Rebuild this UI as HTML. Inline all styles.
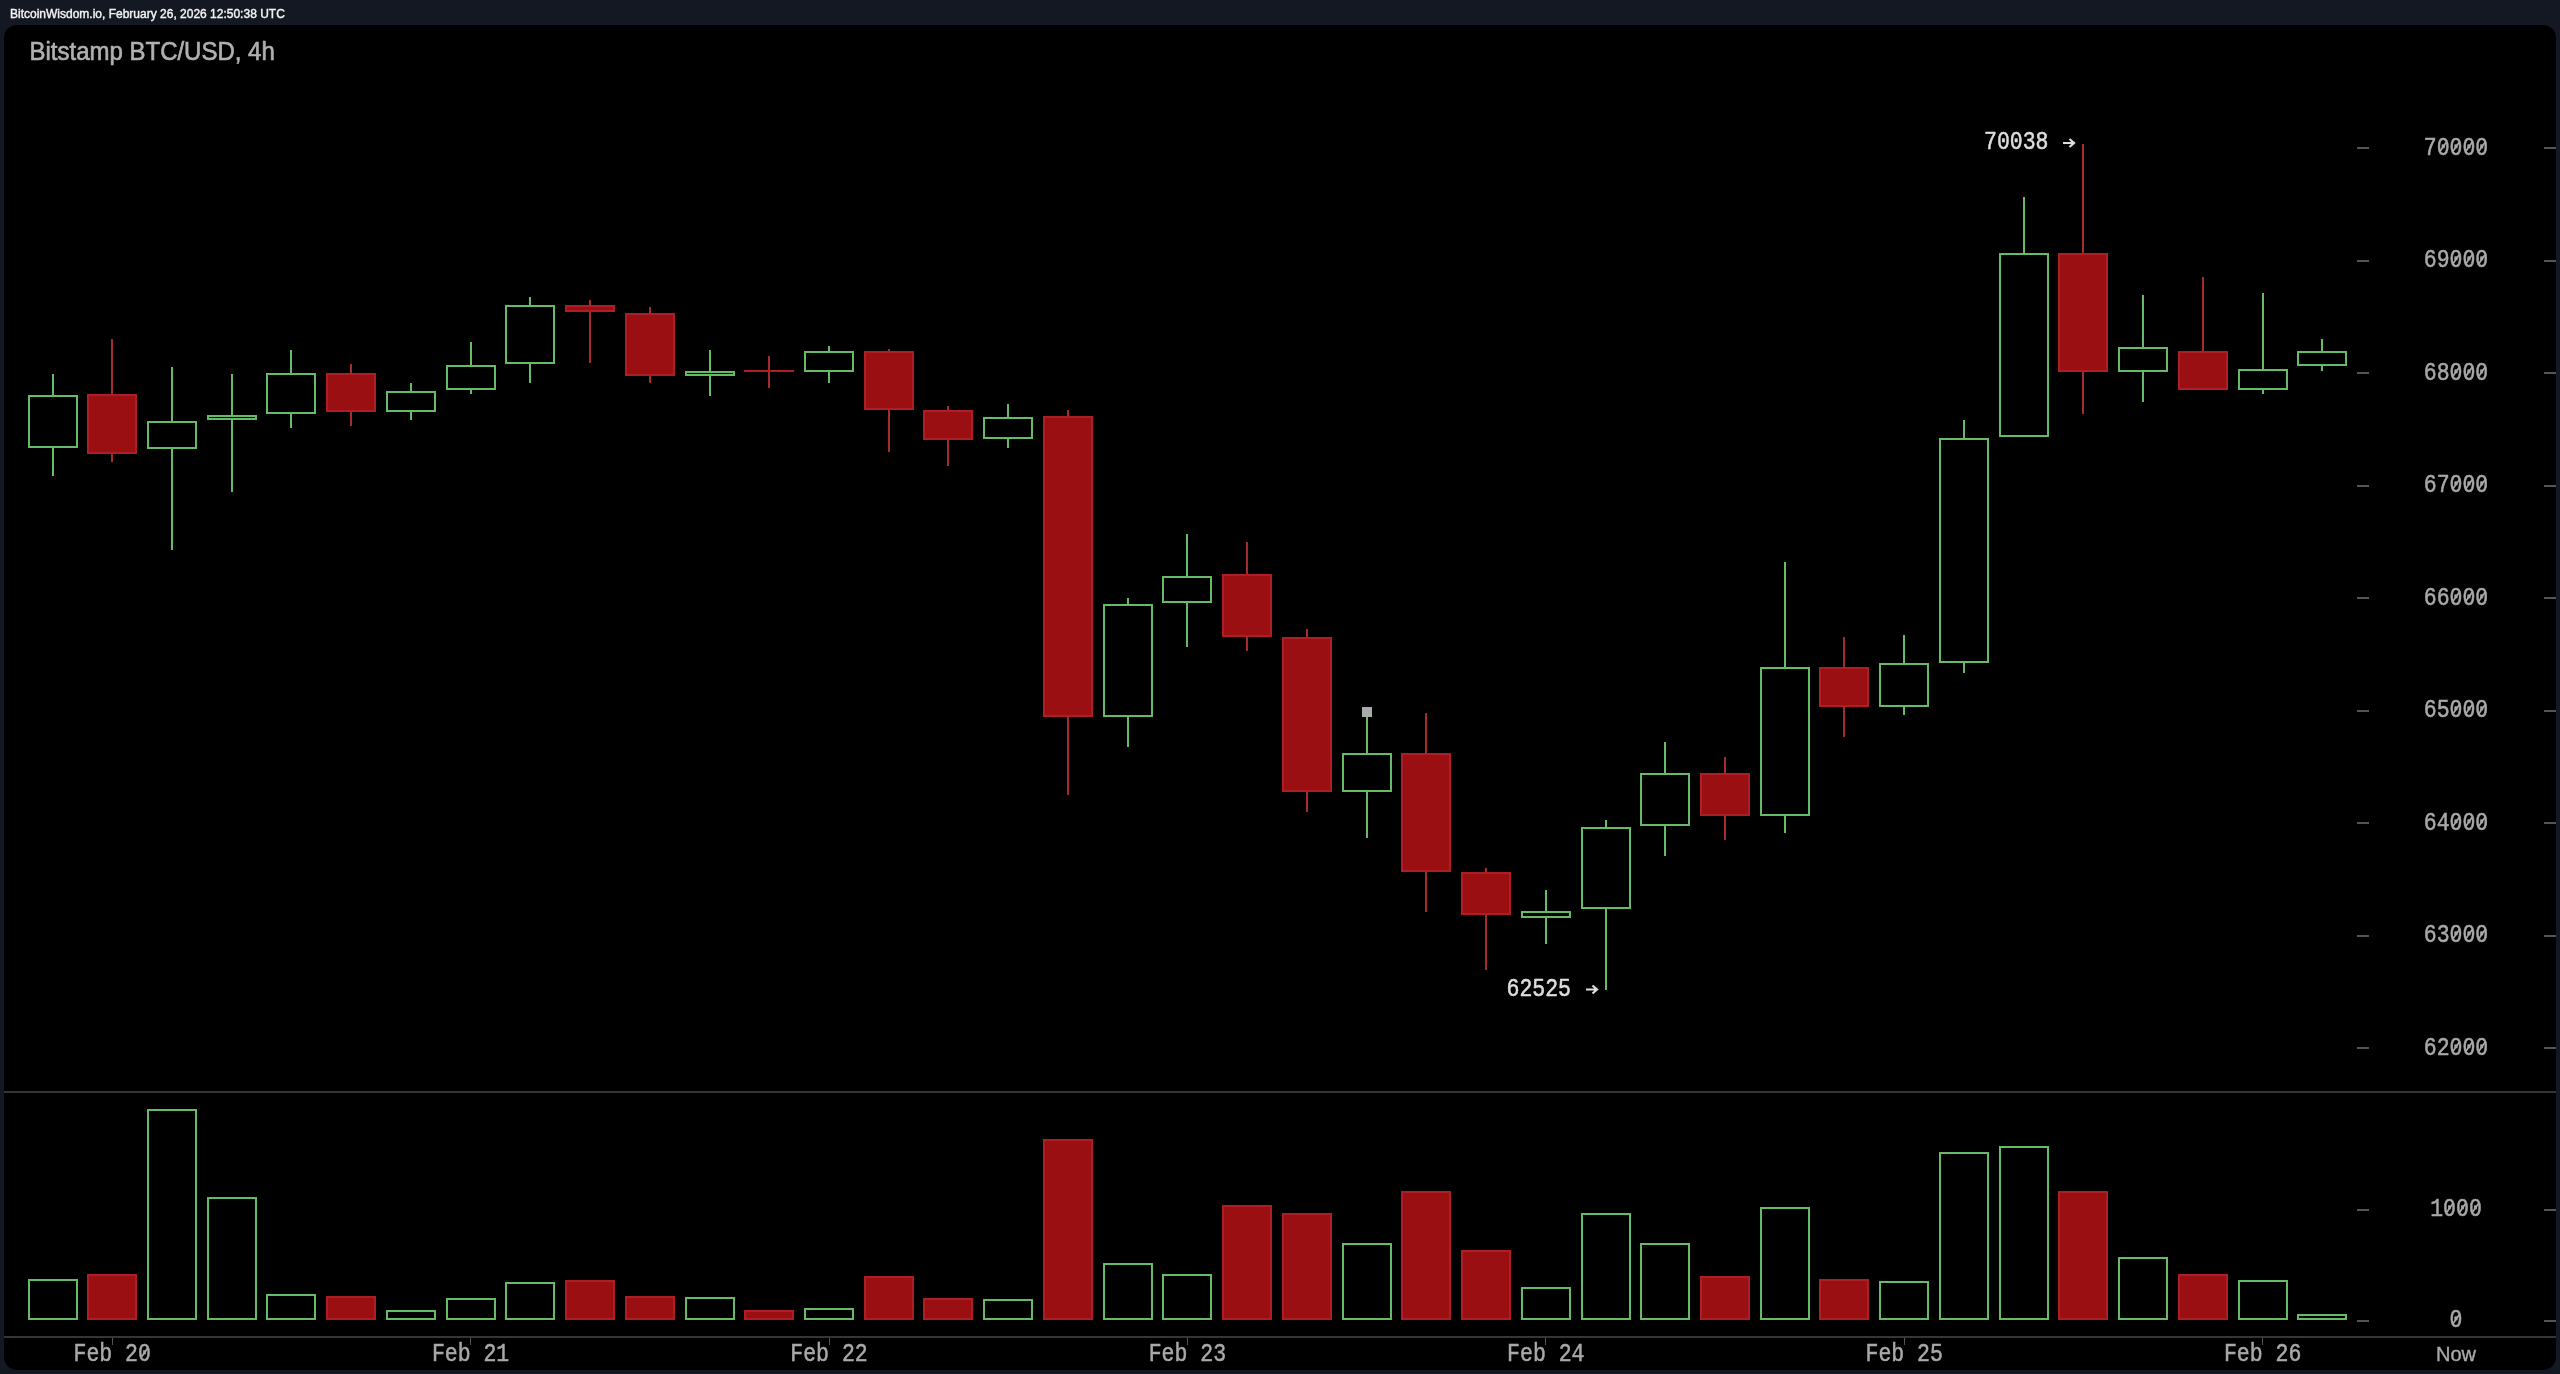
<!DOCTYPE html>
<html><head><meta charset="utf-8"><style>
html,body{margin:0;padding:0;width:2560px;height:1374px;overflow:hidden;background:#141822;}
svg{position:absolute;left:0;top:0;display:block;will-change:transform}
</style></head><body>
<svg width="2560" height="1374" viewBox="0 0 2560 1374" shape-rendering="crispEdges">
<rect x="0" y="0" width="2560" height="1374" fill="#141822"/>
<text x="10" y="17.8" font-family="Liberation Sans, sans-serif" font-size="12" fill="#f4f4f4" stroke="#f4f4f4" stroke-width="0.4">BitcoinWisdom.io, February 26, 2026 12:50:38 UTC</text>
<rect x="4" y="25" width="2552" height="1345" rx="13" ry="13" fill="#000" shape-rendering="geometricPrecision"/>
<text x="29.5" y="0" transform="translate(0,59.85) scale(1,1.06)" font-family="Liberation Sans, sans-serif" font-size="24" fill="#b0b0b0" stroke="#b0b0b0" stroke-width="0.6">Bitstamp BTC/USD, 4h</text>
<rect x="52" y="374" width="2" height="21" fill="#66bb66"/>
<rect x="52" y="448" width="2" height="28" fill="#66bb66"/>
<rect x="29" y="396" width="48" height="51" fill="none" stroke="#66bb66" stroke-width="2"/>
<rect x="111" y="339" width="2" height="123" fill="#a42c2a"/>
<rect x="87" y="394" width="50" height="60" fill="#ae1e22"/>
<rect x="89" y="396" width="46" height="56" fill="#9a0f11"/>
<rect x="171" y="367" width="2" height="54" fill="#66bb66"/>
<rect x="171" y="449" width="2" height="101" fill="#66bb66"/>
<rect x="148" y="422" width="48" height="26" fill="none" stroke="#66bb66" stroke-width="2"/>
<rect x="231" y="374" width="2" height="41" fill="#66bb66"/>
<rect x="231" y="420" width="2" height="72" fill="#66bb66"/>
<rect x="208" y="416" width="48" height="3" fill="none" stroke="#66bb66" stroke-width="2"/>
<rect x="290" y="350" width="2" height="23" fill="#66bb66"/>
<rect x="290" y="414" width="2" height="14" fill="#66bb66"/>
<rect x="267" y="374" width="48" height="39" fill="none" stroke="#66bb66" stroke-width="2"/>
<rect x="350" y="364" width="2" height="62" fill="#a42c2a"/>
<rect x="326" y="373" width="50" height="39" fill="#ae1e22"/>
<rect x="328" y="375" width="46" height="35" fill="#9a0f11"/>
<rect x="410" y="383" width="2" height="8" fill="#66bb66"/>
<rect x="410" y="412" width="2" height="8" fill="#66bb66"/>
<rect x="387" y="392" width="48" height="19" fill="none" stroke="#66bb66" stroke-width="2"/>
<rect x="470" y="342" width="2" height="23" fill="#66bb66"/>
<rect x="470" y="390" width="2" height="4" fill="#66bb66"/>
<rect x="447" y="366" width="48" height="23" fill="none" stroke="#66bb66" stroke-width="2"/>
<rect x="529" y="297" width="2" height="8" fill="#66bb66"/>
<rect x="529" y="364" width="2" height="19" fill="#66bb66"/>
<rect x="506" y="306" width="48" height="57" fill="none" stroke="#66bb66" stroke-width="2"/>
<rect x="589" y="300" width="2" height="63" fill="#a42c2a"/>
<rect x="565" y="305" width="50" height="7" fill="#ae1e22"/>
<rect x="567" y="307" width="46" height="3" fill="#9a0f11"/>
<rect x="649" y="307" width="2" height="76" fill="#a42c2a"/>
<rect x="625" y="313" width="50" height="63" fill="#ae1e22"/>
<rect x="627" y="315" width="46" height="59" fill="#9a0f11"/>
<rect x="709" y="350" width="2" height="21" fill="#66bb66"/>
<rect x="709" y="376" width="2" height="20" fill="#66bb66"/>
<rect x="686" y="372" width="48" height="3" fill="none" stroke="#66bb66" stroke-width="2"/>
<rect x="768" y="356" width="2" height="32" fill="#a42c2a"/>
<rect x="744" y="370" width="50" height="2" fill="#ae1e22"/>
<rect x="828" y="346" width="2" height="5" fill="#66bb66"/>
<rect x="828" y="372" width="2" height="11" fill="#66bb66"/>
<rect x="805" y="352" width="48" height="19" fill="none" stroke="#66bb66" stroke-width="2"/>
<rect x="888" y="349" width="2" height="103" fill="#a42c2a"/>
<rect x="864" y="351" width="50" height="59" fill="#ae1e22"/>
<rect x="866" y="353" width="46" height="55" fill="#9a0f11"/>
<rect x="947" y="406" width="2" height="60" fill="#a42c2a"/>
<rect x="923" y="410" width="50" height="30" fill="#ae1e22"/>
<rect x="925" y="412" width="46" height="26" fill="#9a0f11"/>
<rect x="1007" y="404" width="2" height="13" fill="#66bb66"/>
<rect x="1007" y="439" width="2" height="9" fill="#66bb66"/>
<rect x="984" y="418" width="48" height="20" fill="none" stroke="#66bb66" stroke-width="2"/>
<rect x="1067" y="410" width="2" height="385" fill="#a42c2a"/>
<rect x="1043" y="416" width="50" height="301" fill="#ae1e22"/>
<rect x="1045" y="418" width="46" height="297" fill="#9a0f11"/>
<rect x="1127" y="598" width="2" height="6" fill="#66bb66"/>
<rect x="1127" y="717" width="2" height="30" fill="#66bb66"/>
<rect x="1104" y="605" width="48" height="111" fill="none" stroke="#66bb66" stroke-width="2"/>
<rect x="1186" y="534" width="2" height="42" fill="#66bb66"/>
<rect x="1186" y="603" width="2" height="44" fill="#66bb66"/>
<rect x="1163" y="577" width="48" height="25" fill="none" stroke="#66bb66" stroke-width="2"/>
<rect x="1246" y="542" width="2" height="109" fill="#a42c2a"/>
<rect x="1222" y="574" width="50" height="63" fill="#ae1e22"/>
<rect x="1224" y="576" width="46" height="59" fill="#9a0f11"/>
<rect x="1306" y="629" width="2" height="183" fill="#a42c2a"/>
<rect x="1282" y="637" width="50" height="155" fill="#ae1e22"/>
<rect x="1284" y="639" width="46" height="151" fill="#9a0f11"/>
<rect x="1366" y="712" width="2" height="41" fill="#66bb66"/>
<rect x="1366" y="792" width="2" height="46" fill="#66bb66"/>
<rect x="1343" y="754" width="48" height="37" fill="none" stroke="#66bb66" stroke-width="2"/>
<rect x="1425" y="713" width="2" height="199" fill="#a42c2a"/>
<rect x="1401" y="753" width="50" height="119" fill="#ae1e22"/>
<rect x="1403" y="755" width="46" height="115" fill="#9a0f11"/>
<rect x="1485" y="868" width="2" height="102" fill="#a42c2a"/>
<rect x="1461" y="872" width="50" height="43" fill="#ae1e22"/>
<rect x="1463" y="874" width="46" height="39" fill="#9a0f11"/>
<rect x="1545" y="890" width="2" height="21" fill="#66bb66"/>
<rect x="1545" y="918" width="2" height="26" fill="#66bb66"/>
<rect x="1522" y="912" width="48" height="5" fill="none" stroke="#66bb66" stroke-width="2"/>
<rect x="1605" y="820" width="2" height="7" fill="#66bb66"/>
<rect x="1605" y="909" width="2" height="81" fill="#66bb66"/>
<rect x="1582" y="828" width="48" height="80" fill="none" stroke="#66bb66" stroke-width="2"/>
<rect x="1664" y="742" width="2" height="31" fill="#66bb66"/>
<rect x="1664" y="826" width="2" height="30" fill="#66bb66"/>
<rect x="1641" y="774" width="48" height="51" fill="none" stroke="#66bb66" stroke-width="2"/>
<rect x="1724" y="757" width="2" height="83" fill="#a42c2a"/>
<rect x="1700" y="773" width="50" height="43" fill="#ae1e22"/>
<rect x="1702" y="775" width="46" height="39" fill="#9a0f11"/>
<rect x="1784" y="562" width="2" height="105" fill="#66bb66"/>
<rect x="1784" y="816" width="2" height="17" fill="#66bb66"/>
<rect x="1761" y="668" width="48" height="147" fill="none" stroke="#66bb66" stroke-width="2"/>
<rect x="1843" y="637" width="2" height="100" fill="#a42c2a"/>
<rect x="1819" y="667" width="50" height="40" fill="#ae1e22"/>
<rect x="1821" y="669" width="46" height="36" fill="#9a0f11"/>
<rect x="1903" y="635" width="2" height="28" fill="#66bb66"/>
<rect x="1903" y="707" width="2" height="8" fill="#66bb66"/>
<rect x="1880" y="664" width="48" height="42" fill="none" stroke="#66bb66" stroke-width="2"/>
<rect x="1963" y="420" width="2" height="18" fill="#66bb66"/>
<rect x="1963" y="663" width="2" height="10" fill="#66bb66"/>
<rect x="1940" y="439" width="48" height="223" fill="none" stroke="#66bb66" stroke-width="2"/>
<rect x="2023" y="197" width="2" height="56" fill="#66bb66"/>
<rect x="2000" y="254" width="48" height="182" fill="none" stroke="#66bb66" stroke-width="2"/>
<rect x="2082" y="144" width="2" height="270" fill="#a42c2a"/>
<rect x="2058" y="253" width="50" height="119" fill="#ae1e22"/>
<rect x="2060" y="255" width="46" height="115" fill="#9a0f11"/>
<rect x="2142" y="295" width="2" height="52" fill="#66bb66"/>
<rect x="2142" y="372" width="2" height="30" fill="#66bb66"/>
<rect x="2119" y="348" width="48" height="23" fill="none" stroke="#66bb66" stroke-width="2"/>
<rect x="2202" y="277" width="2" height="113" fill="#a42c2a"/>
<rect x="2178" y="351" width="50" height="39" fill="#ae1e22"/>
<rect x="2180" y="353" width="46" height="35" fill="#9a0f11"/>
<rect x="2262" y="293" width="2" height="76" fill="#66bb66"/>
<rect x="2262" y="390" width="2" height="4" fill="#66bb66"/>
<rect x="2239" y="370" width="48" height="19" fill="none" stroke="#66bb66" stroke-width="2"/>
<rect x="2321" y="339" width="2" height="12" fill="#66bb66"/>
<rect x="2321" y="366" width="2" height="5" fill="#66bb66"/>
<rect x="2298" y="352" width="48" height="13" fill="none" stroke="#66bb66" stroke-width="2"/>
<rect x="29" y="1280" width="48" height="39" fill="none" stroke="#66bb66" stroke-width="2"/>
<rect x="87" y="1274" width="50" height="46" fill="#ae1e22"/>
<rect x="89" y="1276" width="46" height="42" fill="#9a0f11"/>
<rect x="148" y="1110" width="48" height="209" fill="none" stroke="#66bb66" stroke-width="2"/>
<rect x="208" y="1198" width="48" height="121" fill="none" stroke="#66bb66" stroke-width="2"/>
<rect x="267" y="1295" width="48" height="24" fill="none" stroke="#66bb66" stroke-width="2"/>
<rect x="326" y="1296" width="50" height="24" fill="#ae1e22"/>
<rect x="328" y="1298" width="46" height="20" fill="#9a0f11"/>
<rect x="387" y="1311" width="48" height="8" fill="none" stroke="#66bb66" stroke-width="2"/>
<rect x="447" y="1299" width="48" height="20" fill="none" stroke="#66bb66" stroke-width="2"/>
<rect x="506" y="1283" width="48" height="36" fill="none" stroke="#66bb66" stroke-width="2"/>
<rect x="565" y="1280" width="50" height="40" fill="#ae1e22"/>
<rect x="567" y="1282" width="46" height="36" fill="#9a0f11"/>
<rect x="625" y="1296" width="50" height="24" fill="#ae1e22"/>
<rect x="627" y="1298" width="46" height="20" fill="#9a0f11"/>
<rect x="686" y="1298" width="48" height="21" fill="none" stroke="#66bb66" stroke-width="2"/>
<rect x="744" y="1310" width="50" height="10" fill="#ae1e22"/>
<rect x="746" y="1312" width="46" height="6" fill="#9a0f11"/>
<rect x="805" y="1309" width="48" height="10" fill="none" stroke="#66bb66" stroke-width="2"/>
<rect x="864" y="1276" width="50" height="44" fill="#ae1e22"/>
<rect x="866" y="1278" width="46" height="40" fill="#9a0f11"/>
<rect x="923" y="1298" width="50" height="22" fill="#ae1e22"/>
<rect x="925" y="1300" width="46" height="18" fill="#9a0f11"/>
<rect x="984" y="1300" width="48" height="19" fill="none" stroke="#66bb66" stroke-width="2"/>
<rect x="1043" y="1139" width="50" height="181" fill="#ae1e22"/>
<rect x="1045" y="1141" width="46" height="177" fill="#9a0f11"/>
<rect x="1104" y="1264" width="48" height="55" fill="none" stroke="#66bb66" stroke-width="2"/>
<rect x="1163" y="1275" width="48" height="44" fill="none" stroke="#66bb66" stroke-width="2"/>
<rect x="1222" y="1205" width="50" height="115" fill="#ae1e22"/>
<rect x="1224" y="1207" width="46" height="111" fill="#9a0f11"/>
<rect x="1282" y="1213" width="50" height="107" fill="#ae1e22"/>
<rect x="1284" y="1215" width="46" height="103" fill="#9a0f11"/>
<rect x="1343" y="1244" width="48" height="75" fill="none" stroke="#66bb66" stroke-width="2"/>
<rect x="1401" y="1191" width="50" height="129" fill="#ae1e22"/>
<rect x="1403" y="1193" width="46" height="125" fill="#9a0f11"/>
<rect x="1461" y="1250" width="50" height="70" fill="#ae1e22"/>
<rect x="1463" y="1252" width="46" height="66" fill="#9a0f11"/>
<rect x="1522" y="1288" width="48" height="31" fill="none" stroke="#66bb66" stroke-width="2"/>
<rect x="1582" y="1214" width="48" height="105" fill="none" stroke="#66bb66" stroke-width="2"/>
<rect x="1641" y="1244" width="48" height="75" fill="none" stroke="#66bb66" stroke-width="2"/>
<rect x="1700" y="1276" width="50" height="44" fill="#ae1e22"/>
<rect x="1702" y="1278" width="46" height="40" fill="#9a0f11"/>
<rect x="1761" y="1208" width="48" height="111" fill="none" stroke="#66bb66" stroke-width="2"/>
<rect x="1819" y="1279" width="50" height="41" fill="#ae1e22"/>
<rect x="1821" y="1281" width="46" height="37" fill="#9a0f11"/>
<rect x="1880" y="1282" width="48" height="37" fill="none" stroke="#66bb66" stroke-width="2"/>
<rect x="1940" y="1153" width="48" height="166" fill="none" stroke="#66bb66" stroke-width="2"/>
<rect x="2000" y="1147" width="48" height="172" fill="none" stroke="#66bb66" stroke-width="2"/>
<rect x="2058" y="1191" width="50" height="129" fill="#ae1e22"/>
<rect x="2060" y="1193" width="46" height="125" fill="#9a0f11"/>
<rect x="2119" y="1258" width="48" height="61" fill="none" stroke="#66bb66" stroke-width="2"/>
<rect x="2178" y="1274" width="50" height="46" fill="#ae1e22"/>
<rect x="2180" y="1276" width="46" height="42" fill="#9a0f11"/>
<rect x="2239" y="1281" width="48" height="38" fill="none" stroke="#66bb66" stroke-width="2"/>
<rect x="2298" y="1315" width="48" height="4" fill="none" stroke="#66bb66" stroke-width="2"/>
<rect x="1361.5" y="707" width="10" height="10" fill="#aaaaaa"/>
<rect x="2357" y="147.3" width="12" height="2" fill="#555"/>
<rect x="2544" y="147.3" width="12" height="2" fill="#555"/>
<rect x="2357" y="259.8" width="12" height="2" fill="#555"/>
<rect x="2544" y="259.8" width="12" height="2" fill="#555"/>
<rect x="2357" y="372.3" width="12" height="2" fill="#555"/>
<rect x="2544" y="372.3" width="12" height="2" fill="#555"/>
<rect x="2357" y="484.8" width="12" height="2" fill="#555"/>
<rect x="2544" y="484.8" width="12" height="2" fill="#555"/>
<rect x="2357" y="597.3" width="12" height="2" fill="#555"/>
<rect x="2544" y="597.3" width="12" height="2" fill="#555"/>
<rect x="2357" y="709.8" width="12" height="2" fill="#555"/>
<rect x="2544" y="709.8" width="12" height="2" fill="#555"/>
<rect x="2357" y="822.3" width="12" height="2" fill="#555"/>
<rect x="2544" y="822.3" width="12" height="2" fill="#555"/>
<rect x="2357" y="934.8" width="12" height="2" fill="#555"/>
<rect x="2544" y="934.8" width="12" height="2" fill="#555"/>
<rect x="2357" y="1047.3" width="12" height="2" fill="#555"/>
<rect x="2544" y="1047.3" width="12" height="2" fill="#555"/>
<rect x="2357" y="1208.6" width="12" height="2" fill="#555"/>
<rect x="2544" y="1208.6" width="12" height="2" fill="#555"/>
<rect x="2357" y="1319.9" width="12" height="2" fill="#555"/>
<rect x="2544" y="1319.9" width="12" height="2" fill="#555"/>
<rect x="4" y="1091" width="2552" height="2" fill="#363636"/>
<rect x="4" y="1336" width="2552" height="2" fill="#363636"/>
<rect x="112" y="1338" width="1" height="7" fill="#555"/>
<rect x="470" y="1338" width="1" height="7" fill="#555"/>
<rect x="829" y="1338" width="1" height="7" fill="#555"/>
<rect x="1187" y="1338" width="1" height="7" fill="#555"/>
<rect x="1545" y="1338" width="1" height="7" fill="#555"/>
<rect x="1904" y="1338" width="1" height="7" fill="#555"/>
<rect x="2262" y="1338" width="1" height="7" fill="#555"/>
<text x="2456.0" y="0" transform="translate(0,154.8) scale(1,1.18)" text-anchor="middle" font-family="Liberation Mono, monospace" font-size="21.5" fill="#a9a9a9" stroke="#a9a9a9" stroke-width="0.45">70000</text>
<path d="M2446.3 142.2L2440.1 151.2" stroke="#a9a9a9" stroke-width="1.7" shape-rendering="geometricPrecision"/>
<path d="M2459.2 142.2L2453.0 151.2" stroke="#a9a9a9" stroke-width="1.7" shape-rendering="geometricPrecision"/>
<path d="M2472.1 142.2L2465.9 151.2" stroke="#a9a9a9" stroke-width="1.7" shape-rendering="geometricPrecision"/>
<path d="M2485.0 142.2L2478.8 151.2" stroke="#a9a9a9" stroke-width="1.7" shape-rendering="geometricPrecision"/>
<text x="2456.0" y="0" transform="translate(0,267.3) scale(1,1.18)" text-anchor="middle" font-family="Liberation Mono, monospace" font-size="21.5" fill="#a9a9a9" stroke="#a9a9a9" stroke-width="0.45">69000</text>
<path d="M2459.2 254.7L2453.0 263.7" stroke="#a9a9a9" stroke-width="1.7" shape-rendering="geometricPrecision"/>
<path d="M2472.1 254.7L2465.9 263.7" stroke="#a9a9a9" stroke-width="1.7" shape-rendering="geometricPrecision"/>
<path d="M2485.0 254.7L2478.8 263.7" stroke="#a9a9a9" stroke-width="1.7" shape-rendering="geometricPrecision"/>
<text x="2456.0" y="0" transform="translate(0,379.8) scale(1,1.18)" text-anchor="middle" font-family="Liberation Mono, monospace" font-size="21.5" fill="#a9a9a9" stroke="#a9a9a9" stroke-width="0.45">68000</text>
<path d="M2459.2 367.2L2453.0 376.2" stroke="#a9a9a9" stroke-width="1.7" shape-rendering="geometricPrecision"/>
<path d="M2472.1 367.2L2465.9 376.2" stroke="#a9a9a9" stroke-width="1.7" shape-rendering="geometricPrecision"/>
<path d="M2485.0 367.2L2478.8 376.2" stroke="#a9a9a9" stroke-width="1.7" shape-rendering="geometricPrecision"/>
<text x="2456.0" y="0" transform="translate(0,492.3) scale(1,1.18)" text-anchor="middle" font-family="Liberation Mono, monospace" font-size="21.5" fill="#a9a9a9" stroke="#a9a9a9" stroke-width="0.45">67000</text>
<path d="M2459.2 479.7L2453.0 488.7" stroke="#a9a9a9" stroke-width="1.7" shape-rendering="geometricPrecision"/>
<path d="M2472.1 479.7L2465.9 488.7" stroke="#a9a9a9" stroke-width="1.7" shape-rendering="geometricPrecision"/>
<path d="M2485.0 479.7L2478.8 488.7" stroke="#a9a9a9" stroke-width="1.7" shape-rendering="geometricPrecision"/>
<text x="2456.0" y="0" transform="translate(0,604.8) scale(1,1.18)" text-anchor="middle" font-family="Liberation Mono, monospace" font-size="21.5" fill="#a9a9a9" stroke="#a9a9a9" stroke-width="0.45">66000</text>
<path d="M2459.2 592.2L2453.0 601.2" stroke="#a9a9a9" stroke-width="1.7" shape-rendering="geometricPrecision"/>
<path d="M2472.1 592.2L2465.9 601.2" stroke="#a9a9a9" stroke-width="1.7" shape-rendering="geometricPrecision"/>
<path d="M2485.0 592.2L2478.8 601.2" stroke="#a9a9a9" stroke-width="1.7" shape-rendering="geometricPrecision"/>
<text x="2456.0" y="0" transform="translate(0,717.3) scale(1,1.18)" text-anchor="middle" font-family="Liberation Mono, monospace" font-size="21.5" fill="#a9a9a9" stroke="#a9a9a9" stroke-width="0.45">65000</text>
<path d="M2459.2 704.7L2453.0 713.7" stroke="#a9a9a9" stroke-width="1.7" shape-rendering="geometricPrecision"/>
<path d="M2472.1 704.7L2465.9 713.7" stroke="#a9a9a9" stroke-width="1.7" shape-rendering="geometricPrecision"/>
<path d="M2485.0 704.7L2478.8 713.7" stroke="#a9a9a9" stroke-width="1.7" shape-rendering="geometricPrecision"/>
<text x="2456.0" y="0" transform="translate(0,829.8) scale(1,1.18)" text-anchor="middle" font-family="Liberation Mono, monospace" font-size="21.5" fill="#a9a9a9" stroke="#a9a9a9" stroke-width="0.45">64000</text>
<path d="M2459.2 817.2L2453.0 826.2" stroke="#a9a9a9" stroke-width="1.7" shape-rendering="geometricPrecision"/>
<path d="M2472.1 817.2L2465.9 826.2" stroke="#a9a9a9" stroke-width="1.7" shape-rendering="geometricPrecision"/>
<path d="M2485.0 817.2L2478.8 826.2" stroke="#a9a9a9" stroke-width="1.7" shape-rendering="geometricPrecision"/>
<text x="2456.0" y="0" transform="translate(0,942.3) scale(1,1.18)" text-anchor="middle" font-family="Liberation Mono, monospace" font-size="21.5" fill="#a9a9a9" stroke="#a9a9a9" stroke-width="0.45">63000</text>
<path d="M2459.2 929.7L2453.0 938.7" stroke="#a9a9a9" stroke-width="1.7" shape-rendering="geometricPrecision"/>
<path d="M2472.1 929.7L2465.9 938.7" stroke="#a9a9a9" stroke-width="1.7" shape-rendering="geometricPrecision"/>
<path d="M2485.0 929.7L2478.8 938.7" stroke="#a9a9a9" stroke-width="1.7" shape-rendering="geometricPrecision"/>
<text x="2456.0" y="0" transform="translate(0,1054.8) scale(1,1.18)" text-anchor="middle" font-family="Liberation Mono, monospace" font-size="21.5" fill="#a9a9a9" stroke="#a9a9a9" stroke-width="0.45">62000</text>
<path d="M2459.2 1042.2L2453.0 1051.2" stroke="#a9a9a9" stroke-width="1.7" shape-rendering="geometricPrecision"/>
<path d="M2472.1 1042.2L2465.9 1051.2" stroke="#a9a9a9" stroke-width="1.7" shape-rendering="geometricPrecision"/>
<path d="M2485.0 1042.2L2478.8 1051.2" stroke="#a9a9a9" stroke-width="1.7" shape-rendering="geometricPrecision"/>
<text x="2456.0" y="0" transform="translate(0,1216.1) scale(1,1.18)" text-anchor="middle" font-family="Liberation Mono, monospace" font-size="21.5" fill="#a9a9a9" stroke="#a9a9a9" stroke-width="0.45">1000</text>
<path d="M2452.8 1203.5L2446.6 1212.5" stroke="#a9a9a9" stroke-width="1.7" shape-rendering="geometricPrecision"/>
<path d="M2465.6 1203.5L2459.4 1212.5" stroke="#a9a9a9" stroke-width="1.7" shape-rendering="geometricPrecision"/>
<path d="M2478.5 1203.5L2472.3 1212.5" stroke="#a9a9a9" stroke-width="1.7" shape-rendering="geometricPrecision"/>
<text x="2456.0" y="0" transform="translate(0,1327.4) scale(1,1.18)" text-anchor="middle" font-family="Liberation Mono, monospace" font-size="21.5" fill="#a9a9a9" stroke="#a9a9a9" stroke-width="0.45">0</text>
<path d="M2459.2 1314.8L2453.0 1323.8" stroke="#a9a9a9" stroke-width="1.7" shape-rendering="geometricPrecision"/>
<text x="112.2" y="0" transform="translate(0,1360.7) scale(1,1.18)" text-anchor="middle" font-family="Liberation Mono, monospace" font-size="21.5" fill="#a9a9a9" stroke="#a9a9a9" stroke-width="0.45">Feb 20</text>
<path d="M147.7 1348.1L141.5 1357.1" stroke="#a9a9a9" stroke-width="1.7" shape-rendering="geometricPrecision"/>
<text x="470.6" y="0" transform="translate(0,1360.7) scale(1,1.18)" text-anchor="middle" font-family="Liberation Mono, monospace" font-size="21.5" fill="#a9a9a9" stroke="#a9a9a9" stroke-width="0.45">Feb 21</text>
<text x="829.0" y="0" transform="translate(0,1360.7) scale(1,1.18)" text-anchor="middle" font-family="Liberation Mono, monospace" font-size="21.5" fill="#a9a9a9" stroke="#a9a9a9" stroke-width="0.45">Feb 22</text>
<text x="1187.4" y="0" transform="translate(0,1360.7) scale(1,1.18)" text-anchor="middle" font-family="Liberation Mono, monospace" font-size="21.5" fill="#a9a9a9" stroke="#a9a9a9" stroke-width="0.45">Feb 23</text>
<text x="1545.8" y="0" transform="translate(0,1360.7) scale(1,1.18)" text-anchor="middle" font-family="Liberation Mono, monospace" font-size="21.5" fill="#a9a9a9" stroke="#a9a9a9" stroke-width="0.45">Feb 24</text>
<text x="1904.2" y="0" transform="translate(0,1360.7) scale(1,1.18)" text-anchor="middle" font-family="Liberation Mono, monospace" font-size="21.5" fill="#a9a9a9" stroke="#a9a9a9" stroke-width="0.45">Feb 25</text>
<text x="2262.6" y="0" transform="translate(0,1360.7) scale(1,1.18)" text-anchor="middle" font-family="Liberation Mono, monospace" font-size="21.5" fill="#a9a9a9" stroke="#a9a9a9" stroke-width="0.45">Feb 26</text>
<text x="1984" y="0" transform="translate(0,149.4) scale(1,1.18)" font-family="Liberation Mono, monospace" font-size="21.5" fill="#dedede" stroke="#dedede" stroke-width="0.45">70038</text>
<path d="M2063 143H2074M2069.5 139L2074 143L2069.5 147" fill="none" stroke="#dedede" stroke-width="2.2" stroke-linejoin="miter" stroke-linecap="butt" shape-rendering="geometricPrecision"/>
<text x="1506.5" y="0" transform="translate(0,995.8) scale(1,1.18)" font-family="Liberation Mono, monospace" font-size="21.5" fill="#dedede" stroke="#dedede" stroke-width="0.45">62525</text>
<path d="M1586 989.5H1597M1592.5 985.5L1597 989.5L1592.5 993.5" fill="none" stroke="#dedede" stroke-width="2.2" stroke-linejoin="miter" stroke-linecap="butt" shape-rendering="geometricPrecision"/>
<text x="2456" y="1360.7" text-anchor="middle" font-family="Liberation Sans, sans-serif" font-size="20" fill="#ababab" stroke="#ababab" stroke-width="0.35">Now</text>
</svg>
</body></html>
